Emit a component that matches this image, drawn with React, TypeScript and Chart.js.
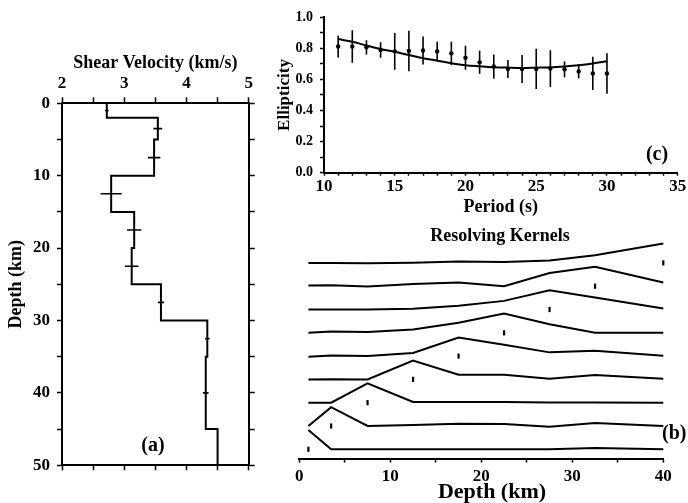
import { useEffect, useRef } from 'react';
import { Chart, registerables } from 'chart.js';
Chart.register(...registerables);

// ---------- Panel (a): shear-velocity profile ----------
const layerTops = [0, 2, 5, 10, 15, 20, 25, 30, 35, 45];
const shearVelocity = [2.72, 3.54, 3.48, 2.79, 3.16, 3.12, 3.59, 4.335, 4.31, 4.5];
const modelBottom = 50;
const errDepths = [1, 3.5, 7.5, 12.5, 17.5, 22.5, 27.5, 32.5, 40];
const errVelocity = [2.72, 3.54, 3.48, 2.79, 3.16, 3.12, 3.59, 4.335, 4.31];
const errHalfWidth = [0.03, 0.07, 0.1, 0.17, 0.115, 0.11, 0.05, 0.035, 0.045];

// ---------- Panel (c): ellipticity ----------
const periods = [11, 12, 13, 14, 15, 16, 17, 18, 19, 20, 21, 22, 23, 24, 25, 26, 27, 28, 29, 30];
const ellipObserved = [0.812, 0.812, 0.807, 0.79, 0.781, 0.783, 0.786, 0.78, 0.768, 0.74, 0.71, 0.683, 0.668, 0.667, 0.668, 0.67, 0.665, 0.652, 0.639, 0.638];
const ellipError = [0.07, 0.105, 0.046, 0.05, 0.118, 0.13, 0.09, 0.062, 0.075, 0.077, 0.074, 0.078, 0.058, 0.09, 0.13, 0.118, 0.05, 0.045, 0.107, 0.13];
const ellipModel = [0.86, 0.843, 0.818, 0.796, 0.778, 0.757, 0.737, 0.721, 0.705, 0.692, 0.685, 0.679, 0.676, 0.674, 0.676, 0.678, 0.684, 0.692, 0.703, 0.717];

// ---------- Panel (b): resolving kernels ----------
const kernelDepths = [1, 3.5, 7.5, 12.5, 17.5, 22.5, 27.5, 32.5, 40];
const targetDepths = [1, 3.5, 7.5, 12.5, 17.5, 22.5, 27.5, 32.5, 40];
const kernel1 = [0.83, 0, 0, 0, 0, 0, 0, 0.06, 0];
const kernel2 = [0, 0.81, 0, 0.04, 0.1, 0.09, -0.03, 0.13, 0];
const kernel3 = [0, 0, 0.83, 0.03, 0.03, 0.03, 0.01, 0.01, 0];
const kernel4 = [-0.01, 0.01, 0, 0.81, 0.2, 0.2, 0.03, 0.19, 0.03];
const kernel5 = [-0.03, 0.03, 0, 0.13, 0.8, 0.49, 0.16, 0.23, 0.01];
const kernel6 = [0, 0.06, 0.03, 0.14, 0.43, 0.83, 0.37, 0, 0];
const kernel7 = [0, 0, 0, 0.03, 0.16, 0.37, 0.83, 0.51, 0.04];
const kernel8 = [0.03, 0.04, -0.01, 0.09, 0.16, 0, 0.57, 0.83, 0.16];
const kernel9 = [0, 0, -0.01, 0.01, 0.06, 0.04, 0.1, 0.33, 0.83];
const kernels = [kernel1, kernel2, kernel3, kernel4, kernel5, kernel6, kernel7, kernel8, kernel9];

const FONT = '"Liberation Serif", "Times New Roman", serif';
const W = 688;
const H = 503;

Chart.defaults.font.family = FONT;
Chart.defaults.font.weight = 'bold';
Chart.defaults.font.size = 17;
Chart.defaults.color = '#000';

const fixSize = (size: number, horizontal: boolean) => (s: any) => {
  if (horizontal) s.height = size;
  else s.width = size;
  s.paddingLeft = 0;
  s.paddingRight = 0;
  s.paddingTop = 0;
  s.paddingBottom = 0;
};

const textPlugin = (items: { text: string; x: number; y: number; size: number; align?: CanvasTextAlign }[]) => ({
  id: 'panelText',
  afterDraw(chart: any) {
    const ctx = chart.ctx;
    ctx.save();
    ctx.fillStyle = '#000';
    ctx.textBaseline = 'middle';
    items.forEach((t) => {
      ctx.textAlign = t.align || 'center';
      ctx.font = `bold ${t.size}px ${FONT}`;
      ctx.fillText(t.text, t.x, t.y);
    });
    ctx.restore();
  },
});

const axisBase = (tickLength: number) => ({
  type: 'linear' as const,
  border: { display: true, color: '#000', width: 2 },
  grid: { drawOnChartArea: false, drawTicks: true, tickLength, color: '#000', tickWidth: 1.5 },
});

const noRot = { maxRotation: 0, minRotation: 0, autoSkip: false };

const isMult = (v: number, m: number) => Math.abs(v / m - Math.round(v / m)) < 1e-6;

function makeProfile(canvas: HTMLCanvasElement) {
  const profile = layerTops
    .map((d, i) => ({ x: shearVelocity[i], y: d }))
    .concat([{ x: shearVelocity[shearVelocity.length - 1], y: modelBottom }]);
  const errSets = errDepths.map((d, i) => ({
    data: [
      { x: errVelocity[i] - errHalfWidth[i], y: d },
      { x: errVelocity[i] + errHalfWidth[i], y: d },
    ],
    borderColor: '#000',
    borderWidth: 1.6,
    pointRadius: 0,
  }));
  return new Chart(canvas, {
    type: 'line',
    data: {
      datasets: [
        { data: profile, stepped: 'after', borderColor: '#000', borderWidth: 2, pointRadius: 0 } as any,
        ...errSets,
      ],
    },
    options: {
      responsive: false,
      animation: false,
      events: [],
      layout: { padding: { left: 0, top: 0, right: 431.3, bottom: 29.7 } },
      plugins: { legend: { display: false }, tooltip: { enabled: false } },
      scales: {
        x: {
          ...axisBase(6),
          position: 'top',
          min: 2,
          max: 5,
          afterFit: fixSize(103.3, true),
          ticks: { ...noRot, stepSize: 0.5, padding: 3.1, callback: (v: any) => (isMult(v, 1) ? String(v) : '') },
          title: { display: true, text: 'Shear Velocity (km/s)', font: { size: 18, lineHeight: 1 }, padding: { top: 54, bottom: 0 } },
        },
        x2: {
          ...axisBase(5),
          position: 'bottom',
          min: 2,
          max: 5,
          afterFit: fixSize(8, true),
          ticks: { ...noRot, stepSize: 0.5, display: false },
        },
        y: {
          ...axisBase(5),
          position: 'left',
          reverse: true,
          min: 0,
          max: 50,
          afterFit: fixSize(62, false),
          ticks: { ...noRot, stepSize: 5, padding: 7, callback: (v: any) => (isMult(v, 10) ? String(v) : '') },
          title: { display: true, text: 'Depth (km)', font: { size: 18, lineHeight: 1 }, padding: { top: 7, bottom: 0 } },
        },
        y2: {
          ...axisBase(6),
          position: 'right',
          reverse: true,
          min: 0,
          max: 50,
          afterFit: fixSize(8, false),
          ticks: { ...noRot, stepSize: 5, display: false },
        },
      } as any,
    },
    plugins: [textPlugin([{ text: '(a)', x: 153, y: 446, size: 20 }])],
  });
}

function makeEllipticity(canvas: HTMLCanvasElement) {
  const errSets = periods.map((p, i) => ({
    data: [
      { x: p, y: ellipObserved[i] - ellipError[i] },
      { x: p, y: ellipObserved[i] + ellipError[i] },
    ],
    borderColor: '#000',
    borderWidth: 1.6,
    pointRadius: 0,
  }));
  return new Chart(canvas, {
    type: 'line',
    data: {
      datasets: [
        {
          data: periods.map((p, i) => ({ x: p, y: ellipModel[i] })),
          borderColor: '#000',
          borderWidth: 2,
          pointRadius: 0,
          tension: 0.4,
          cubicInterpolationMode: 'monotone',
        } as any,
        {
          data: periods.map((p, i) => ({ x: p, y: ellipObserved[i] })),
          showLine: false,
          pointRadius: 2.2,
          pointBackgroundColor: '#000',
          pointBorderColor: '#000',
          pointBorderWidth: 0,
        },
        ...errSets,
      ],
    },
    options: {
      responsive: false,
      animation: false,
      events: [],
      layout: { padding: { left: 264, top: 17.3, right: 10.3, bottom: 285.3 } },
      plugins: { legend: { display: false }, tooltip: { enabled: false } },
      scales: {
        x: {
          ...axisBase(3),
          position: 'bottom',
          min: 10,
          max: 35,
          afterFit: fixSize(45, true),
          ticks: { ...noRot, stepSize: 1, padding: 0.8, callback: (v: any) => (isMult(v, 5) ? String(v) : '') },
          title: { display: true, text: 'Period (s)', font: { size: 18, lineHeight: 1 }, padding: { top: 0, bottom: 1.7 } },
        },
        y: {
          ...axisBase(4),
          position: 'left',
          min: 0,
          max: 1,
          afterFit: fixSize(60, false),
          ticks: { ...noRot, stepSize: 0.1, padding: 7, font: { size: 14 }, callback: (v: any) => (isMult(v, 0.2) ? Number(v).toFixed(1) : '') },
          title: { display: true, text: 'Ellipticity', font: { size: 17, lineHeight: 1 }, padding: { top: 12.5, bottom: 0 } },
        },
      } as any,
    },
    plugins: [textPlugin([{ text: '(c)', x: 657, y: 155, size: 20 }])],
  });
}

function makeKernels(canvas: HTMLCanvasElement) {
  const lineSets = kernels.map((k, i) => ({
    data: kernelDepths.map((d, j) => ({ x: d, y: i + k[j] })),
    borderColor: '#000',
    borderWidth: 2,
    pointRadius: 0,
    clip: false,
  }));
  const markerSet = {
    data: targetDepths.map((d, i) => ({ x: d, y: i })),
    showLine: false,
    pointStyle: 'line',
    rotation: 90,
    pointRadius: 2.6,
    borderColor: '#000',
    borderWidth: 2.2,
    clip: false,
  };
  return new Chart(canvas, {
    type: 'line',
    data: { datasets: [...lineSets, markerSet as any] },
    options: {
      responsive: false,
      animation: false,
      events: [],
      layout: { padding: { left: 299.3, top: 239.6, right: 24.7, bottom: 0.4 } },
      plugins: { legend: { display: false }, tooltip: { enabled: false } },
      scales: {
        x: {
          ...axisBase(4),
          position: 'bottom',
          min: 0,
          max: 40,
          afterFit: fixSize(44, true),
          ticks: { ...noRot, stepSize: 5, padding: 3.8, callback: (v: any) => (isMult(v, 10) ? String(v) : '') },
        },
        y: {
          type: 'linear',
          display: false,
          min: -0.4,
          max: 9,
        },
      } as any,
    },
    plugins: [
      textPlugin([
        { text: 'Resolving Kernels', x: 500, y: 236.5, size: 18 },
        { text: 'Depth (km)', x: 492, y: 492.5, size: 22 },
        { text: '(b)', x: 662, y: 434, size: 20, align: 'left' },
      ]),
    ],
  });
}

export default function App() {
  const refA = useRef<HTMLCanvasElement>(null);
  const refB = useRef<HTMLCanvasElement>(null);
  const refC = useRef<HTMLCanvasElement>(null);

  useEffect(() => {
    const charts = [
      makeProfile(refA.current!),
      makeKernels(refB.current!),
      makeEllipticity(refC.current!),
    ];
    return () => charts.forEach((c) => c.destroy());
  }, []);

  const canvasStyle: React.CSSProperties = { position: 'absolute', left: 0, top: 0 };
  return (
    <div style={{ position: 'fixed', left: 0, top: 0, width: W, height: H, background: '#fff', overflow: 'hidden' }}>
      <canvas ref={refA} width={W} height={H} style={canvasStyle} />
      <canvas ref={refB} width={W} height={H} style={canvasStyle} />
      <canvas ref={refC} width={W} height={H} style={canvasStyle} />
    </div>
  );
}
